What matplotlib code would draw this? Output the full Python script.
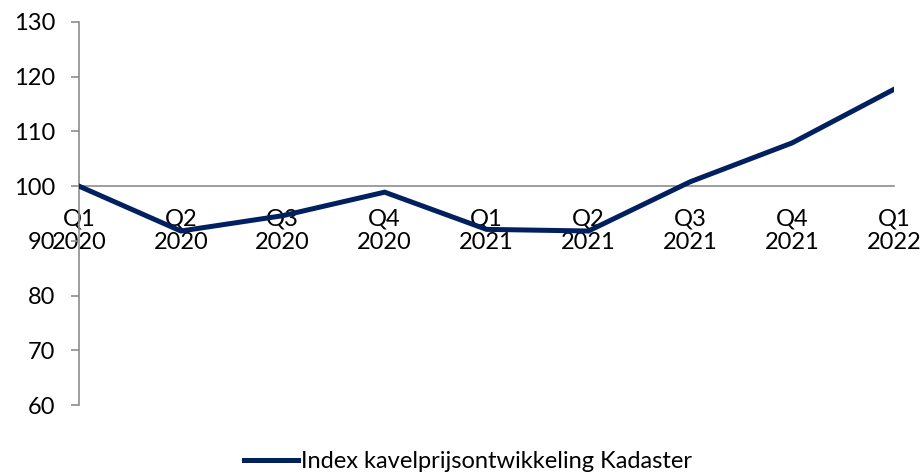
import matplotlib
matplotlib.use("Agg")
import matplotlib.pyplot as plt
import numpy as np

plt.rcParams['font.family'] = ['Lato', 'DejaVu Sans']

categories = ["Q1\n2020", "Q2\n2020", "Q3\n2020", "Q4\n2020", "Q1\n2021",
              "Q2\n2021", "Q3\n2021", "Q4\n2021", "Q1\n2022"]
values = [100.0, 91.8, 94.6, 98.9, 92.1, 91.8, 100.8, 107.9, 117.7]
series_name = "Index kavelprijsontwikkeling Kadaster"
yticks = [60, 70, 80, 90, 100, 110, 120, 130]

fig = plt.figure(figsize=(9.24, 4.74), dpi=100)
ax = fig.add_axes([79/924, 1-405/474, (894-79)/924, (405-22)/474])

x = np.arange(len(categories))
ax.plot(x, values, color='#002060', lw=3.6, solid_joinstyle='miter',
        label=series_name, zorder=3)

ax.set_xlim(0, len(categories)-1)
ax.set_ylim(60, 130)
ax.set_yticks(yticks)
ax.set_yticklabels([str(v) for v in yticks])

axis_col = '#8c8c8c'
for s in ['top', 'right']:
    ax.spines[s].set_visible(False)
ax.spines['left'].set_color(axis_col)
ax.spines['left'].set_linewidth(1.2)
ax.spines['bottom'].set_position(('data', 100))
ax.spines['bottom'].set_color(axis_col)
ax.spines['bottom'].set_linewidth(1.2)
ax.spines['bottom'].set_zorder(1)

ax.set_xticks(x)
ax.set_xticklabels(categories, linespacing=1.15)
ax.set_xticks([0, 4, 8], minor=True)
ax.tick_params(axis='x', which='major', length=0, pad=16, labelsize=17, colors='black')
ax.tick_params(axis='x', which='minor', length=6, width=1.2, color=axis_col, direction='out')
ax.tick_params(axis='y', length=6, width=1.2, color=axis_col, pad=11, labelsize=17)
for lbl in ax.get_xticklabels():
    lbl.set_zorder(4)

leg = fig.legend(loc='center', bbox_to_anchor=(468/924, 1-462/474), frameon=False,
                 fontsize=17, handlelength=2.3, handletextpad=0.1)

fig.savefig("out.png", dpi=100)
